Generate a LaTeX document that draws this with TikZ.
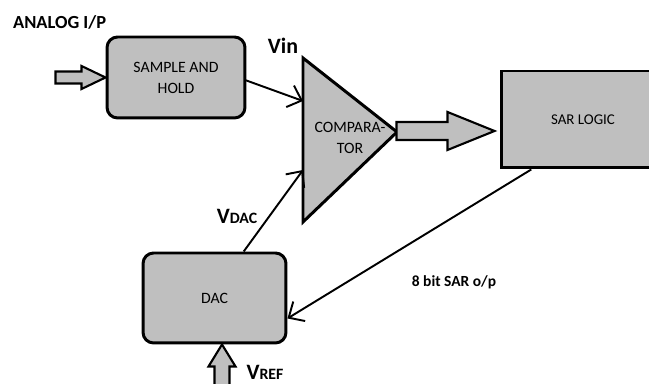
\documentclass[tikz,border=0pt]{standalone}
\usepackage{fontspec}
\setmainfont{Carlito}
\usetikzlibrary{arrows.meta, positioning, calc}
\tikzset{
    % Colors
    blockGray/.style={draw=black, fill=black!25},
    % Shapes
    block/.style={rectangle, line width=1.7pt, rounded corners=6pt, align=center,
                  blockGray, font=\fontsize{9}{12}\selectfont},
    fatArrow/.style={line width=1.2pt, blockGray, line join=miter},
    % Flow & Labels
    flow/.style={-{Straight Barb[length=7pt,width=13pt]}, line width=1.1pt},
    lbl/.style={font=\bfseries\fontsize{10.5}{12}\selectfont, inner sep=1pt},
    small/.style={font=\bfseries\fontsize{8.8}{10}\selectfont},
    big/.style={font=\bfseries\fontsize{12.5}{14}\selectfont}
}

\begin{document}
\begin{tikzpicture}[x=0.02cm, y=-0.02cm]
\useasboundingbox (0,0) rectangle (649,384);

% blocks
\node[block, minimum width=2.76cm, minimum height=1.62cm] (sh) at (176,77.5) {SAMPLE AND\\HOLD};
\node[block, rounded corners=0pt, minimum width=3.28cm, minimum height=1.94cm,
      font=\fontsize{8.5}{10}\selectfont] (sar) at (583,119.5) {SAR LOGIC};
\node[block, minimum width=2.86cm, minimum height=1.8cm] (dac) at (214.5,298) {DAC};

% comparator
\draw[line width=1.7pt, blockGray, line join=miter]
    (303,58) coordinate (cmpA) -- (397,132) coordinate (cmpC) -- (303,222) coordinate (cmpB) -- cycle;
\node[font=\fontsize{9}{12}\selectfont, align=center] (cmp) at (350,138) {COMPARA-\\TOR};
\coordinate (cmpIn1) at (303,101);
\coordinate (cmpIn2) at (303,170);

% wide arrows
\draw[fatArrow] (sh.west) -- ++(-24,-11.5) -- ++(0,5.5) -- ++(-26,0) -- ++(0,12)
    -- ++(26,0) -- ++(0,5.5) -- cycle;
\draw[fatArrow] ($(sar.west)+(-5,11.5)$) coordinate (outTip) -- ++(-47,-19) -- ++(0,10)
    -- ++(-51,0) -- ++(0,18) -- ++(51,0) -- ++(0,10) -- cycle;
\draw[fatArrow] ($(dac.south)+(7.5,0)$) -- ++(13.5,22) -- ++(-6,0) -- ++(0,30) -- ++(-15,0)
    -- ++(0,-30) -- ++(-6,0) -- cycle;

% connections
\draw[flow] (245,80) -- (cmpIn1);
\draw[flow] ($(dac.north west)!0.7!(dac.north east)$) -- (cmpIn2);
\draw[flow] ($(sar.south west)!0.19!(sar.south east)$) -- ($(dac.north east)!0.72!(dac.south east)$);

% labels
\node[lbl, anchor=west] (analog) at (11,22.5) {ANALOG I/P};
\node[lbl, big] (vin) at (283,46) {Vin};
\node[lbl] (vdac) at (237,216) {{\fontsize{12.5}{14}\selectfont V}{\fontsize{9}{10}\selectfont DAC}};
\node[lbl] (vref) at (265,372) {{\fontsize{12.5}{14}\selectfont V}{\fontsize{9}{10}\selectfont REF}};
\node[lbl, small] (sarout) at (454,282) {8 bit SAR o/p};

\end{tikzpicture}
\end{document}
